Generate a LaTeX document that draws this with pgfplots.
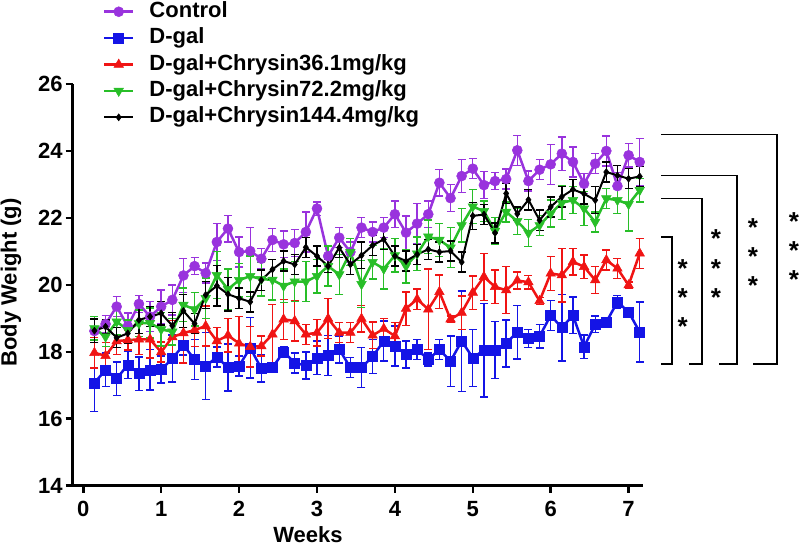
\documentclass[border=0pt]{standalone}
\usepackage{fontspec}
\setmainfont{Liberation Sans}
\usepackage{pgfplots}
\usepackage{pgfplotstable}
\pgfplotsset{compat=1.18}
\definecolor{cpur}{RGB}{153,51,221}
\definecolor{cblu}{RGB}{20,20,230}
\definecolor{cred}{RGB}{240,20,20}
\definecolor{cgrn}{RGB}{40,190,40}

\pgfplotstableread{
d y e
1 18.62 0.35
2 18.83 0.25
3 19.35 0.3
4 18.76 0.4
5 19.43 0.25
6 19.05 0.45
7 19.35 0.5
8 19.55 0.45
9 20.28 0.5
10 20.56 0.25
11 20.35 0.3
12 21.28 0.55
13 21.68 0.4
14 20.98 0.45
15 21.01 0.7
16 20.78 0.3
17 21.34 0.35
18 21.21 0.4
19 21.25 0.4
20 21.58 0.6
21 22.28 0.2
22 20.86 0.3
23 21.41 0.3
24 20.98 0.3
25 21.71 0.3
26 21.58 0.3
27 21.71 0.3
28 22.11 0.4
29 21.56 0.5
30 21.83 0.6
31 22.11 0.4
32 23.05 0.4
33 22.59 0.4
34 23.25 0.5
35 23.47 0.3
36 22.98 0.4
37 23.10 0.25
38 23.16 0.3
39 24.02 0.45
40 23.10 0.3
41 23.44 0.3
42 23.60 0.6
43 23.92 0.5
44 23.67 0.45
45 23.02 0.3
46 23.62 0.3
47 24.00 0.45
48 22.95 0.4
49 23.87 0.35
50 23.67 0.7
}\ctrl

\pgfplotstableread{
d y e
1 17.07 0.85
2 17.46 0.5
3 17.20 0.5
4 17.61 0.4
5 17.35 0.5
6 17.46 0.6
7 17.47 0.4
8 17.80 0.7
9 18.20 0.3
10 17.77 0.6
11 17.57 1.0
12 17.84 0.3
13 17.53 0.7
14 17.58 0.3
15 18.12 0.9
16 17.50 0.4
17 17.53 0.15
18 18.00 0.15
19 17.67 0.3
20 17.59 0.4
21 17.82 0.5
22 17.89 0.6
23 18.07 0.4
24 17.53 0.3
25 17.53 0.6
26 17.86 0.5
27 18.32 0.6
28 18.17 0.6
29 17.92 0.4
30 18.07 0.3
31 17.77 0.2
32 18.07 0.3
33 17.72 0.75
34 18.32 1.5
35 17.82 0.85
36 18.05 1.4
37 18.05 0.85
38 18.25 0.7
39 18.59 0.8
40 18.40 0.27
41 18.46 0.35
42 19.09 0.45
43 18.72 1.0
44 19.09 0.55
45 18.15 0.35
46 18.82 0.25
47 18.89 0.1
48 19.49 0.2
49 19.19 0.1
50 18.59 0.9
}\dgal

\pgfplotstableread{
d y e
1 17.97 0.45
2 17.88 0.4
3 18.32 0.4
4 18.35 0.3
5 18.37 0.45
6 18.37 0.55
7 17.99 0.3
8 18.44 0.5
9 18.56 0.9
10 18.65 0.5
11 18.77 0.6
12 18.32 0.4
13 18.49 0.5
14 18.25 0.8
15 18.15 0.6
16 18.17 0.3
17 18.52 0.9
18 18.97 0.6
19 18.92 0.6
20 18.52 0.3
21 18.57 0.4
22 18.99 0.6
23 18.57 0.3
24 18.57 0.3
25 18.99 0.4
26 18.49 0.4
27 18.69 0.3
28 18.47 0.4
29 19.29 0.5
30 19.57 0.3
31 19.27 1.2
32 19.79 0.5
33 18.97 0.1
34 19.17 0.5
35 19.77 0.5
36 20.24 0.7
37 19.94 0.5
38 19.84 0.7
39 20.13 0.25
40 20.08 0.2
41 19.52 0.1
42 20.34 0.5
43 20.29 0.8
44 20.69 0.4
45 20.54 0.35
46 20.14 0.4
47 20.74 0.3
48 20.49 0.3
49 19.99 0.1
50 20.94 0.45
}\lowd

\pgfplotstableread{
d y e
1 18.70 0.35
2 18.45 0.3
3 18.90 0.4
4 18.65 0.3
5 18.85 0.4
6 18.86 0.45
7 18.67 0.5
8 18.60 0.4
9 19.40 0.5
10 19.27 0.5
11 19.60 0.6
12 20.29 0.7
13 19.87 0.6
14 20.14 0.5
15 20.26 0.6
16 20.17 0.5
17 20.15 0.6
18 19.97 0.5
19 20.10 0.6
20 20.10 0.6
21 20.26 0.5
22 20.56 0.6
23 20.31 0.6
24 20.98 0.4
25 20.02 0.7
26 20.68 0.5
27 20.48 0.6
28 20.88 0.5
29 20.56 0.5
30 20.93 0.5
31 21.44 0.5
32 21.34 0.5
33 21.11 0.6
34 21.78 0.5
35 22.34 0.5
36 22.20 0.3
37 21.61 0.4
38 22.18 0.3
39 21.90 0.4
40 21.55 0.4
41 21.78 0.3
42 22.13 0.4
43 22.45 0.5
44 22.53 0.4
45 22.28 0.5
46 21.88 0.3
47 22.58 0.3
48 22.53 0.4
49 22.41 0.8
50 22.83 0.35
}\midd

\pgfplotstableread{
d y e
1 18.63 0.35
2 18.75 0.2
3 18.42 0.3
4 18.55 0.3
5 18.95 0.4
6 19.05 0.3
7 19.15 0.35
8 18.78 0.4
9 19.22 0.5
10 18.84 0.3
11 19.70 0.4
12 19.97 0.6
13 19.72 0.5
14 19.60 0.3
15 19.49 0.3
16 20.14 0.3
17 20.46 0.3
18 20.71 0.3
19 20.61 0.3
20 21.12 0.3
21 20.86 0.3
22 20.56 0.2
23 21.11 0.3
24 20.61 0.3
25 20.88 0.4
26 21.18 0.3
27 21.36 0.3
28 20.86 0.3
29 20.71 0.3
30 20.91 0.3
31 21.06 0.3
32 20.98 0.3
33 21.01 0.3
34 20.68 0.3
35 22.06 0.4
36 22.10 0.3
37 21.55 0.3
38 22.73 0.3
39 22.12 0.2
40 22.54 0.3
41 21.93 0.3
42 22.33 0.3
43 22.63 0.3
44 22.85 0.3
45 22.72 0.3
46 22.53 0.4
47 23.37 0.3
48 23.27 0.3
49 23.17 0.3
50 23.24 0.3
}\highd

\begin{document}
\begin{tikzpicture}
\begin{axis}[
  at={(0,0)}, anchor=south west,
  scale only axis, width=570.3pt, height=401.7pt,
  xmin=-0.136, xmax=7.185, ymin=14, ymax=26,
  axis x line*=bottom, axis y line*=left,
  axis line style={line width=2.5pt},
  xtick={0,...,7}, ytick={14,16,...,26},
  tick align=outside, major tick length=7pt,
  tick style={line width=2.5pt, black},
  /pgf/number format/assume math mode=true,
  every tick label/.append style={font=\bfseries\fontsize{22}{26}\selectfont},
  yticklabel style={inner sep=3pt},
  xticklabel style={inner sep=3pt, yshift=-5pt},
  xlabel={Weeks}, ylabel={Body Weight (g)},
  label style={font=\bfseries\fontsize{22}{26}\selectfont, inner sep=0pt},
  xlabel style={at={(axis description cs:0.4126,-0.100)}, anchor=north},
  ylabel style={at={(axis description cs:-0.0896,0.506)}, anchor=south},
  clip=false,
  legend cell align=left,
  legend image code/.code={\draw[mark repeat=2,mark phase=2,#1] plot coordinates {(0pt,0pt) (14.5pt,0pt) (29pt,0pt)};},
  legend style={draw=none, fill=none, inner sep=0pt, outer sep=0pt,
    at={(axis description cs:0.0531,1.206)}, anchor=north west,
    row sep=5.4pt,
    nodes={inner sep=0pt, text height=16pt, text depth=5pt, font=\bfseries\fontsize{22}{26}\selectfont},
    /tikz/every odd column/.append style={column sep=15pt}},
  error bars/y dir=both, error bars/y explicit,
  error bars/error bar style={line width=1.4pt},
  error bars/error mark options={rotate=90, line width=1.4pt, mark size=4pt},
]
\addplot[cpur, line width=2.5pt, mark=*, mark size=5pt, mark options={solid, line width=0.5pt, fill=cpur}]
  table[x expr=\thisrow{d}/7, y=y, y error=e] {\ctrl};
\addlegendentry{Control}
\addplot[cblu, line width=2.5pt, mark=square*, mark size=5pt, mark options={solid, line width=0.5pt, fill=cblu}]
  table[x expr=\thisrow{d}/7, y=y, y error=e] {\dgal};
\addlegendentry{D-gal}
\addplot[cred, line width=2.5pt, mark=triangle*, mark size=5.5pt, mark options={solid, line width=0.5pt, fill=cred}]
  table[x expr=\thisrow{d}/7, y=y, y error=e] {\lowd};
\addlegendentry{D-gal+Chrysin36.1mg/kg}
\addplot[cgrn, line width=2.5pt, mark=triangle*, mark size=5.5pt, mark options={solid, rotate=180, line width=0.5pt, fill=cgrn}]
  table[x expr=\thisrow{d}/7, y=y, y error=e] {\midd};
\addlegendentry{D-gal+Chrysin72.2mg/kg}
\addplot[black, line width=2pt, mark=diamond*, mark size=3.5pt, mark options={solid, line width=0.5pt, fill=black}]
  table[x expr=\thisrow{d}/7, y=y, y error=e] {\highd};
\addlegendentry{D-gal+Chrysin144.4mg/kg}

\draw[line width=1.5pt] (axis cs:7.416,24.49) -- (axis cs:8.905,24.49) -- (axis cs:8.905,17.63) -- (axis cs:8.597,17.63);
\draw[line width=1.5pt] (axis cs:7.416,23.27) -- (axis cs:8.392,23.27) -- (axis cs:8.392,17.63) -- (axis cs:8.161,17.63);
\draw[line width=1.5pt] (axis cs:7.416,22.58) -- (axis cs:7.942,22.58) -- (axis cs:7.942,17.63) -- (axis cs:7.775,17.63);
\draw[line width=1.5pt] (axis cs:7.416,21.43) -- (axis cs:7.557,21.43) -- (axis cs:7.557,17.63) -- (axis cs:7.416,17.63);
\begin{scope}[every node/.style={font=\bfseries\fontsize{26}{28}\selectfont, inner sep=0pt, yshift=-5.5pt}]
\node at (axis cs:7.694,20.66) {*};
\node at (axis cs:7.694,19.79) {*};
\node at (axis cs:7.694,18.93) {*};
\node at (axis cs:8.122,21.54) {*};
\node at (axis cs:8.122,20.66) {*};
\node at (axis cs:8.122,19.79) {*};
\node at (axis cs:8.597,21.88) {*};
\node at (axis cs:8.597,21.01) {*};
\node at (axis cs:8.597,20.14) {*};
\node at (axis cs:9.123,22.05) {*};
\node at (axis cs:9.123,21.19) {*};
\node at (axis cs:9.123,20.31) {*};
\end{scope}
\end{axis}
\pgfresetboundingbox
\path (-72.7pt,-65.3pt) rectangle (727.3pt,485.7pt);
\end{tikzpicture}
\end{document}
